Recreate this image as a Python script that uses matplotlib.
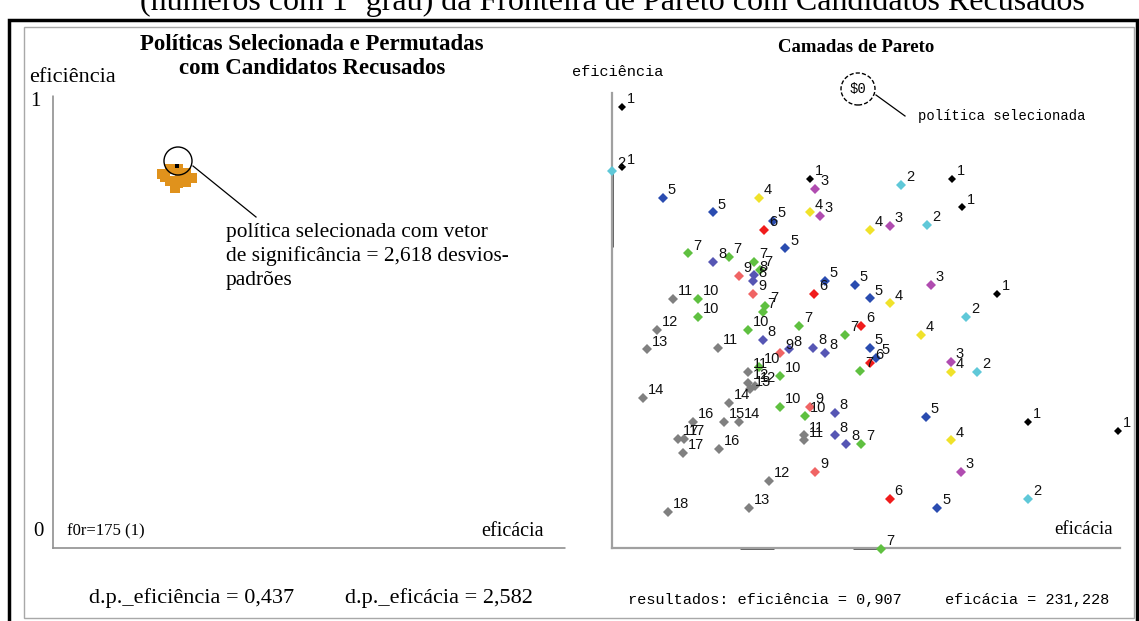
import matplotlib
matplotlib.use('Agg')
import matplotlib.pyplot as plt
from matplotlib.lines import Line2D
from matplotlib.patches import Rectangle, Ellipse

# Camadas de Pareto: camada de cada ponto, eficácia (0-100) e eficiência (0-100)
pareto_layer = [1, 1, 1, 1, 1, 1, 1, 1,
                2, 2, 2, 2, 2, 2,
                3, 3, 3, 3, 3, 3,
                4, 4, 4, 4, 4, 4, 4,
                5, 5, 5, 5, 5, 5, 5, 5, 5, 5, 5,
                6, 6, 6, 6, 6,
                7, 7, 7, 7, 7, 7, 7, 7, 7, 7, 7,
                8, 8, 8, 8, 8, 8, 8, 8, 8, 8,
                9, 9, 9, 9, 9,
                10, 10, 10, 10, 10, 10, 10,
                11, 11, 11, 11, 11,
                12, 12, 12, 12,
                13, 13, 13,
                14, 14, 14,
                15,
                16, 16,
                17, 17, 17,
                18]
pareto_eficacia = [2.0, 2.0, 39.0, 66.9, 68.9, 75.8, 81.9, 99.6,
                   0.0, 56.9, 62.0, 69.7, 71.9, 81.9,
                   40.0, 40.9, 54.7, 62.8, 66.7, 68.7,
                   28.9, 39.0, 50.8, 54.7, 60.8, 66.7, 66.7,
                   10.0, 19.9, 31.7, 34.1, 41.9, 47.8, 50.8, 50.8, 52.0, 61.8, 64.0,
                   29.9, 39.8, 49.0, 50.8, 54.7,
                   15.0, 23.0, 28.0, 29.1, 30.1, 29.7, 36.8, 45.9, 48.8, 49.0, 53.0,
                   19.9, 28.0, 27.8, 29.7, 34.8, 39.6, 41.9, 43.9, 43.9, 46.1,
                   25.0, 27.8, 33.1, 39.0, 40.0,
                   16.9, 16.9, 26.8, 28.9, 33.1, 33.1, 38.0,
                   12.0, 20.9, 26.8, 37.8, 37.8,
                   8.9, 26.8, 28.1, 30.9,
                   6.9, 27.2, 27.0,
                   6.1, 23.0, 25.0,
                   22.0,
                   15.9, 21.1,
                   13.0, 14.2, 14.0,
                   11.0]
pareto_eficiencia = [96.9, 83.7, 81.1, 81.1, 74.9, 55.8, 27.7, 25.7,
                     82.9, 79.8, 71.0, 50.8, 38.7, 10.8,
                     78.9, 73.0, 70.8, 57.8, 40.9, 16.7,
                     76.9, 73.8, 69.9, 53.8, 46.8, 38.7, 23.7,
                     76.9, 73.8, 71.9, 65.9, 58.7, 57.8, 54.9, 44.0, 41.8, 28.8, 8.8,
                     69.9, 55.8, 48.8, 40.7, 10.8,
                     64.8, 64.0, 62.9, 61.1, 53.2, 51.9, 48.8, 46.8, 38.9, 22.9, -0.2,
                     62.9, 60.0, 58.7, 45.7, 43.7, 44.0, 42.9, 29.7, 24.8, 22.9,
                     59.8, 55.8, 42.9, 31.0, 16.7,
                     54.7, 50.8, 47.9, 39.8, 37.8, 31.0, 29.0,
                     54.7, 44.0, 38.7, 24.8, 23.7,
                     47.9, 36.3, 35.6, 14.7,
                     43.7, 34.9, 8.8,
                     33.0, 31.9, 27.7,
                     27.7,
                     27.7, 21.8,
                     24.0, 24.0, 20.9,
                     7.9]
layer_colors = {1: '#000000', 2: '#5fc8d8', 3: '#b04cb0', 4: '#f0e22a',
                5: '#2a4cb0', 6: '#f01c1c', 7: '#5fc040', 8: '#5656b4',
                9: '#f06464', 10: '#5fc040'}
gray = '#808080'

# faixas destacadas nos eixos (política selecionada)
y_axis_marks = [(66.2, 82.6)]
x_axis_marks = [(25.2, 31.9), (47.4, 53.0)]

# painel esquerdo: políticas permutadas (eficácia 0-100, eficiência 0-1)
perm_eficacia = [21.3, 22.9, 24.4, 26.0, 27.1, 26.0, 24.4, 22.9, 23.8, 21.9, 24.8]
perm_eficiencia = [0.828, 0.839, 0.839, 0.830, 0.819, 0.810, 0.808, 0.813, 0.797, 0.821, 0.824]
sel_eficacia = 24.2
sel_eficiencia = 0.846

W, H = 1139, 621
def fx(x):
    return x / W
def fy(y):
    return 1 - y / H
def rect(x0, y0, x1, y1):
    return [fx(x0), fy(y1), (x1 - x0) / W, (y1 - y0) / H]

serif = 'Liberation Serif'
mono = 'Liberation Mono'
sans = 'Liberation Sans'

fig = plt.figure(figsize=(W / 100, H / 100), dpi=100)
fig.patch.set_facecolor('white')

# moldura
fig.add_artist(Rectangle((fx(9), fy(623)), (1137 - 9) / W, (623 - 20) / H,
                         transform=fig.transFigure, fill=False, ec='black', lw=2.5))
fig.add_artist(Rectangle((fx(24), fy(618)), (1134 - 24) / W, (618 - 27) / H,
                         transform=fig.transFigure, fill=False, ec='#a8a8a8', lw=1))

# título cortado no topo
fig.text(fx(612), fy(10), '(números com 1º grau) da Fronteira de Pareto com Candidatos Recusados',
         ha='center', va='baseline', fontsize=23, family=serif)

# ---- painel esquerdo ----
axl = fig.add_axes(rect(53, 96, 565, 548))
axl.set_xlim(0, 100)
axl.set_ylim(0, 1)
axl.set_xticks([])
axl.set_yticks([])
for s in ['top', 'right']:
    axl.spines[s].set_visible(False)
for s in ['left', 'bottom']:
    axl.spines[s].set_color('#909090')
    axl.spines[s].set_linestyle((0, (1, 1)))
    axl.spines[s].set_linewidth(1.2)
axl.plot(perm_eficacia, perm_eficiencia, 's', color='#e0921c', ms=6.8, mew=0)
axl.plot([sel_eficacia], [sel_eficiencia], 's', color='black', ms=3, mew=0)

fig.text(fx(312), fy(45), 'Políticas Selecionada e Permutadas', ha='center', va='center',
         fontsize=16.5, fontweight='bold', family=serif)
fig.text(fx(312), fy(68), 'com Candidatos Recusados', ha='center', va='center',
         fontsize=16.5, fontweight='bold', family=serif)
fig.text(fx(29), fy(78), 'eficiência', ha='left', va='center', fontsize=16, family=serif)
fig.text(fx(30), fy(102), '1', ha='left', va='center', fontsize=15, family=serif)
fig.text(fx(33), fy(531), '0', ha='left', va='center', fontsize=15, family=serif)
fig.text(fx(67), fy(531), 'f0r=175 (1)', ha='left', va='center', fontsize=12, family=serif)
fig.text(fx(481), fy(531), 'eficácia', ha='left', va='center', fontsize=14.5, family=serif)
fig.add_artist(Ellipse((fx(178), fy(161)), 28 / W, 28 / H, transform=fig.transFigure,
                       fill=False, ec='black', lw=1))
fig.add_artist(Line2D([fx(193), fx(256)], [fy(166), fy(217)], transform=fig.transFigure,
                      color='black', lw=0.9))
for i, line in enumerate(['política selecionada com vetor',
                          'de significância = 2,618 desvios-',
                          'padrões']):
    fig.text(fx(226), fy(232 + 24 * i), line, ha='left', va='center', fontsize=15.4, family=serif)
fig.text(fx(89), fy(598), 'd.p._eficiência = 0,437', ha='left', va='center', fontsize=16, family=serif)
fig.text(fx(345), fy(598), 'd.p._eficácia = 2,582', ha='left', va='center', fontsize=16, family=serif)

# ---- painel direito ----
axr = fig.add_axes(rect(612, 93, 1120, 548))
axr.set_xlim(0, 100)
axr.set_ylim(0, 100)
axr.set_xticks([])
axr.set_yticks([])
for s in ['top', 'right']:
    axr.spines[s].set_visible(False)
for s in ['left', 'bottom']:
    axr.spines[s].set_color('#a0a0a0')
    axr.spines[s].set_linewidth(1.6)
for y0, y1 in y_axis_marks:
    axr.plot([0, 0], [y0, y1], color='#303030', lw=1.8, solid_capstyle='butt', clip_on=False)
for x0, x1 in x_axis_marks:
    axr.plot([x0, x1], [0, 0], color='#303030', lw=1.8, solid_capstyle='butt', clip_on=False)

for layer in sorted(set(pareto_layer)):
    idx = [i for i, l in enumerate(pareto_layer) if l == layer]
    xs = [pareto_eficacia[i] for i in idx]
    ys = [pareto_eficiencia[i] for i in idx]
    color = layer_colors.get(layer, gray)
    ms = 4.4 if layer == 1 else (5 if layer >= 11 else 5.6)
    axr.plot(xs, ys, 'D', color=color, ms=ms, mew=0, clip_on=False, zorder=3)
    for x, y in zip(xs, ys):
        axr.annotate(str(layer), (x, y), xytext=(3.5, 5.5), textcoords='offset points',
                     ha='left', va='center', fontsize=10.5, family=sans, color='#111111',
                     annotation_clip=False, zorder=4)

fig.text(fx(856), fy(48), 'Camadas de Pareto', ha='center', va='center',
         fontsize=13.5, fontweight='bold', family=serif)
fig.text(fx(572), fy(72), 'eficiência', ha='left', va='center', fontsize=11, family=mono)
fig.add_artist(Ellipse((fx(858), fy(89)), 34 / W, 32 / H, transform=fig.transFigure,
                       fill=False, ec='black', lw=1, ls=(0, (3, 1.5))))
fig.text(fx(858), fy(89), '$0', ha='center', va='center', fontsize=10, family=mono)
fig.add_artist(Line2D([fx(876), fx(905)], [fy(95), fy(116)], transform=fig.transFigure,
                      color='black', lw=0.9))
fig.text(fx(918), fy(116), 'política selecionada', ha='left', va='center', fontsize=10, family=mono)
fig.text(fx(1054), fy(530), 'eficácia', ha='left', va='center', fontsize=13.5, family=serif)
fig.text(fx(628), fy(600), 'resultados: eficiência = 0,907', ha='left', va='center',
         fontsize=11, family=mono)
fig.text(fx(945), fy(600), 'eficácia = 231,228', ha='left', va='center', fontsize=11, family=mono)

fig.savefig('out.png', dpi=100)
